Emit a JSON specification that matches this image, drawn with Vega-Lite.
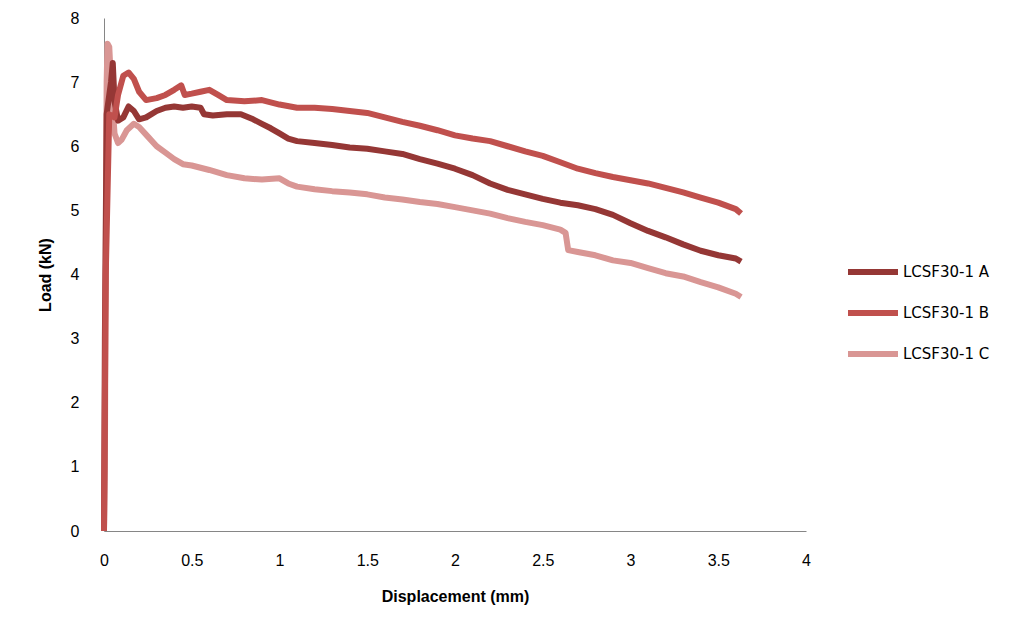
{
  "$schema": "https://vega.github.io/schema/vega-lite/v6.json",
  "autosize": "none",
  "width": 702,
  "height": 513,
  "padding": {"left": 104, "top": 18, "right": 221, "bottom": 106},
  "background": "white",
  "config": {"view": {"stroke": null}, "font": "Liberation Sans"},
  "data": {"values": [
    {"s":"LCSF30-1 C","d":0,"load":0},{"s":"LCSF30-1 C","d":0.005,"load":1.0},{"s":"LCSF30-1 C","d":0.01,"load":4},{"s":"LCSF30-1 C","d":0.015,"load":7.0},{"s":"LCSF30-1 C","d":0.02,"load":7.6},{"s":"LCSF30-1 C","d":0.03,"load":7.55},{"s":"LCSF30-1 C","d":0.04,"load":7.0},{"s":"LCSF30-1 C","d":0.06,"load":6.2},{"s":"LCSF30-1 C","d":0.08,"load":6.05},{"s":"LCSF30-1 C","d":0.1,"load":6.1},{"s":"LCSF30-1 C","d":0.13,"load":6.25},{"s":"LCSF30-1 C","d":0.17,"load":6.35},{"s":"LCSF30-1 C","d":0.2,"load":6.3},{"s":"LCSF30-1 C","d":0.25,"load":6.15},{"s":"LCSF30-1 C","d":0.3,"load":6.0},{"s":"LCSF30-1 C","d":0.35,"load":5.9},{"s":"LCSF30-1 C","d":0.4,"load":5.8},{"s":"LCSF30-1 C","d":0.45,"load":5.72},{"s":"LCSF30-1 C","d":0.5,"load":5.7},{"s":"LCSF30-1 C","d":0.6,"load":5.63},{"s":"LCSF30-1 C","d":0.7,"load":5.55},{"s":"LCSF30-1 C","d":0.8,"load":5.5},{"s":"LCSF30-1 C","d":0.9,"load":5.48},{"s":"LCSF30-1 C","d":1.0,"load":5.5},{"s":"LCSF30-1 C","d":1.05,"load":5.42},{"s":"LCSF30-1 C","d":1.1,"load":5.37},{"s":"LCSF30-1 C","d":1.2,"load":5.33},{"s":"LCSF30-1 C","d":1.3,"load":5.3},{"s":"LCSF30-1 C","d":1.4,"load":5.28},{"s":"LCSF30-1 C","d":1.5,"load":5.25},{"s":"LCSF30-1 C","d":1.6,"load":5.2},{"s":"LCSF30-1 C","d":1.7,"load":5.17},{"s":"LCSF30-1 C","d":1.8,"load":5.13},{"s":"LCSF30-1 C","d":1.9,"load":5.1},{"s":"LCSF30-1 C","d":2.0,"load":5.05},{"s":"LCSF30-1 C","d":2.1,"load":5.0},{"s":"LCSF30-1 C","d":2.2,"load":4.95},{"s":"LCSF30-1 C","d":2.3,"load":4.88},{"s":"LCSF30-1 C","d":2.4,"load":4.82},{"s":"LCSF30-1 C","d":2.5,"load":4.77},{"s":"LCSF30-1 C","d":2.6,"load":4.7},{"s":"LCSF30-1 C","d":2.63,"load":4.65},{"s":"LCSF30-1 C","d":2.645,"load":4.38},{"s":"LCSF30-1 C","d":2.7,"load":4.35},{"s":"LCSF30-1 C","d":2.8,"load":4.3},{"s":"LCSF30-1 C","d":2.9,"load":4.22},{"s":"LCSF30-1 C","d":3.0,"load":4.18},{"s":"LCSF30-1 C","d":3.1,"load":4.1},{"s":"LCSF30-1 C","d":3.2,"load":4.02},{"s":"LCSF30-1 C","d":3.3,"load":3.97},{"s":"LCSF30-1 C","d":3.4,"load":3.88},{"s":"LCSF30-1 C","d":3.5,"load":3.8},{"s":"LCSF30-1 C","d":3.6,"load":3.7},{"s":"LCSF30-1 C","d":3.63,"load":3.65},
    {"s":"LCSF30-1 A","d":0,"load":0},{"s":"LCSF30-1 A","d":0.005,"load":3},{"s":"LCSF30-1 A","d":0.015,"load":6.5},{"s":"LCSF30-1 A","d":0.04,"load":7.0},{"s":"LCSF30-1 A","d":0.05,"load":7.3},{"s":"LCSF30-1 A","d":0.06,"load":6.7},{"s":"LCSF30-1 A","d":0.08,"load":6.4},{"s":"LCSF30-1 A","d":0.11,"load":6.45},{"s":"LCSF30-1 A","d":0.14,"load":6.62},{"s":"LCSF30-1 A","d":0.17,"load":6.55},{"s":"LCSF30-1 A","d":0.2,"load":6.42},{"s":"LCSF30-1 A","d":0.24,"load":6.45},{"s":"LCSF30-1 A","d":0.3,"load":6.55},{"s":"LCSF30-1 A","d":0.35,"load":6.6},{"s":"LCSF30-1 A","d":0.4,"load":6.62},{"s":"LCSF30-1 A","d":0.45,"load":6.6},{"s":"LCSF30-1 A","d":0.5,"load":6.62},{"s":"LCSF30-1 A","d":0.55,"load":6.6},{"s":"LCSF30-1 A","d":0.57,"load":6.5},{"s":"LCSF30-1 A","d":0.62,"load":6.48},{"s":"LCSF30-1 A","d":0.7,"load":6.5},{"s":"LCSF30-1 A","d":0.78,"load":6.5},{"s":"LCSF30-1 A","d":0.85,"load":6.42},{"s":"LCSF30-1 A","d":0.9,"load":6.35},{"s":"LCSF30-1 A","d":0.95,"load":6.28},{"s":"LCSF30-1 A","d":1.0,"load":6.2},{"s":"LCSF30-1 A","d":1.05,"load":6.12},{"s":"LCSF30-1 A","d":1.1,"load":6.08},{"s":"LCSF30-1 A","d":1.2,"load":6.05},{"s":"LCSF30-1 A","d":1.3,"load":6.02},{"s":"LCSF30-1 A","d":1.4,"load":5.98},{"s":"LCSF30-1 A","d":1.5,"load":5.96},{"s":"LCSF30-1 A","d":1.6,"load":5.92},{"s":"LCSF30-1 A","d":1.7,"load":5.88},{"s":"LCSF30-1 A","d":1.8,"load":5.8},{"s":"LCSF30-1 A","d":1.9,"load":5.73},{"s":"LCSF30-1 A","d":2.0,"load":5.65},{"s":"LCSF30-1 A","d":2.1,"load":5.55},{"s":"LCSF30-1 A","d":2.2,"load":5.42},{"s":"LCSF30-1 A","d":2.3,"load":5.32},{"s":"LCSF30-1 A","d":2.4,"load":5.25},{"s":"LCSF30-1 A","d":2.5,"load":5.18},{"s":"LCSF30-1 A","d":2.6,"load":5.12},{"s":"LCSF30-1 A","d":2.7,"load":5.08},{"s":"LCSF30-1 A","d":2.8,"load":5.02},{"s":"LCSF30-1 A","d":2.9,"load":4.93},{"s":"LCSF30-1 A","d":3.0,"load":4.8},{"s":"LCSF30-1 A","d":3.1,"load":4.68},{"s":"LCSF30-1 A","d":3.2,"load":4.58},{"s":"LCSF30-1 A","d":3.3,"load":4.47},{"s":"LCSF30-1 A","d":3.4,"load":4.37},{"s":"LCSF30-1 A","d":3.5,"load":4.3},{"s":"LCSF30-1 A","d":3.6,"load":4.25},{"s":"LCSF30-1 A","d":3.63,"load":4.2},
    {"s":"LCSF30-1 B","d":0,"load":0},{"s":"LCSF30-1 B","d":0.01,"load":4},{"s":"LCSF30-1 B","d":0.03,"load":6.5},{"s":"LCSF30-1 B","d":0.06,"load":6.45},{"s":"LCSF30-1 B","d":0.08,"load":6.8},{"s":"LCSF30-1 B","d":0.11,"load":7.1},{"s":"LCSF30-1 B","d":0.14,"load":7.15},{"s":"LCSF30-1 B","d":0.17,"load":7.05},{"s":"LCSF30-1 B","d":0.2,"load":6.85},{"s":"LCSF30-1 B","d":0.24,"load":6.72},{"s":"LCSF30-1 B","d":0.3,"load":6.75},{"s":"LCSF30-1 B","d":0.35,"load":6.8},{"s":"LCSF30-1 B","d":0.4,"load":6.88},{"s":"LCSF30-1 B","d":0.44,"load":6.95},{"s":"LCSF30-1 B","d":0.46,"load":6.8},{"s":"LCSF30-1 B","d":0.5,"load":6.82},{"s":"LCSF30-1 B","d":0.55,"load":6.85},{"s":"LCSF30-1 B","d":0.6,"load":6.88},{"s":"LCSF30-1 B","d":0.65,"load":6.8},{"s":"LCSF30-1 B","d":0.7,"load":6.72},{"s":"LCSF30-1 B","d":0.8,"load":6.7},{"s":"LCSF30-1 B","d":0.9,"load":6.72},{"s":"LCSF30-1 B","d":1.0,"load":6.65},{"s":"LCSF30-1 B","d":1.1,"load":6.6},{"s":"LCSF30-1 B","d":1.2,"load":6.6},{"s":"LCSF30-1 B","d":1.3,"load":6.58},{"s":"LCSF30-1 B","d":1.4,"load":6.55},{"s":"LCSF30-1 B","d":1.5,"load":6.52},{"s":"LCSF30-1 B","d":1.6,"load":6.45},{"s":"LCSF30-1 B","d":1.7,"load":6.38},{"s":"LCSF30-1 B","d":1.8,"load":6.32},{"s":"LCSF30-1 B","d":1.9,"load":6.25},{"s":"LCSF30-1 B","d":2.0,"load":6.17},{"s":"LCSF30-1 B","d":2.1,"load":6.12},{"s":"LCSF30-1 B","d":2.2,"load":6.08},{"s":"LCSF30-1 B","d":2.3,"load":6.0},{"s":"LCSF30-1 B","d":2.4,"load":5.92},{"s":"LCSF30-1 B","d":2.5,"load":5.85},{"s":"LCSF30-1 B","d":2.6,"load":5.75},{"s":"LCSF30-1 B","d":2.7,"load":5.65},{"s":"LCSF30-1 B","d":2.8,"load":5.58},{"s":"LCSF30-1 B","d":2.9,"load":5.52},{"s":"LCSF30-1 B","d":3.0,"load":5.47},{"s":"LCSF30-1 B","d":3.1,"load":5.42},{"s":"LCSF30-1 B","d":3.2,"load":5.35},{"s":"LCSF30-1 B","d":3.3,"load":5.28},{"s":"LCSF30-1 B","d":3.4,"load":5.2},{"s":"LCSF30-1 B","d":3.5,"load":5.12},{"s":"LCSF30-1 B","d":3.6,"load":5.02},{"s":"LCSF30-1 B","d":3.63,"load":4.95}
  ]},
  "mark": {"type": "line", "strokeJoin": "round"},
  "encoding": {
    "x": {"field": "d", "type": "quantitative", "scale": {"domain": [0, 4]},
      "axis": {"title": "Displacement (mm)", "values": [0,0.5,1,1.5,2,2.5,3,3.5,4], "format": "~g", "grid": false, "ticks": false, "domainColor": "#868686", "labelFontSize": 16, "labelColor": "#000", "labelPadding": 21, "titleFontSize": 16, "titleFontWeight": "bold", "titleColor": "#000", "titlePadding": 20, "labelFlush": false}},
    "y": {"field": "load", "type": "quantitative", "scale": {"domain": [0, 8]},
      "axis": {"title": "Load (kN)", "values": [0,1,2,3,4,5,6,7,8], "format": "~g", "grid": false, "ticks": false, "domainColor": "#868686", "labelFontSize": 16, "labelColor": "#000", "labelPadding": 25, "titleFontSize": 16, "titleFontWeight": "bold", "titleColor": "#000", "titlePadding": 17}},
    "strokeWidth": {"field": "s", "type": "nominal", "scale": {"domain": ["LCSF30-1 A", "LCSF30-1 B", "LCSF30-1 C"], "range": [6, 6, 5]}, "legend": null},
    "order": {"field": "d", "type": "quantitative"},
    "color": {"field": "s", "type": "nominal",
      "scale": {"domain": ["LCSF30-1 A", "LCSF30-1 B", "LCSF30-1 C"], "range": ["#953735", "#C0504D", "#D99694"]},
      "legend": {"title": null, "orient": "none", "legendX": 741, "legendY": 244, "symbolType": "stroke", "symbolSize": 2500, "symbolStrokeWidth": 5, "clipHeight": 20, "labelFontSize": 15, "labelColor": "#000", "labelOffset": 2, "rowPadding": 21, "labelFont": "DejaVu Sans"}}
  }
}
